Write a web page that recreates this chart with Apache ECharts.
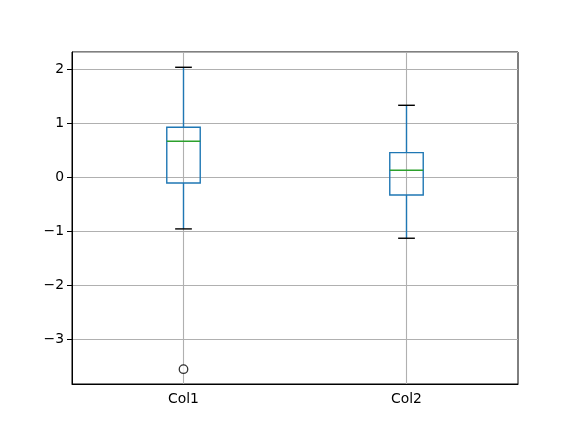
<!DOCTYPE html>
<html><head><meta charset="utf-8">
<script src="https://cdn.jsdelivr.net/npm/echarts@6/dist/echarts.min.js"></script>
<style>html,body{margin:0;padding:0;background:#fff}#c{width:576px;height:432px}</style>
</head><body><div id="c"></div>
<script>
const categories = ['Col1', 'Col2'];
const whiskerLow = [-0.957, -1.13];
const q1 = [-0.106, -0.328];
const median = [0.667, 0.13];
const q3 = [0.926, 0.456];
const whiskerHigh = [2.037, 1.333];
const outliers = [['Col1', -3.556]];
const yMin = -3.83, yMax = 2.32;

const boxData = categories.map((c, i) => [i, whiskerLow[i], q1[i], median[i], q3[i], whiskerHigh[i]]);
const chart = echarts.init(document.getElementById('c'));
const font = 'DejaVu Sans';
function fmt(v){ return String(v).replace('-', '\u2212'); }

chart.setOption({
  animation: false,
  grid: { left: 72, right: 58, top: 52, bottom: 48, show: true, borderColor: '#000', borderWidth: 1, backgroundColor: 'transparent' },
  xAxis: {
    type: 'category', data: categories, boundaryGap: true,
    axisLine: { onZero: false, lineStyle: { color: '#000', width: 1 } },
    axisTick: { alignWithLabel: true, length: 5, lineStyle: { color: '#000', width: 1 } },
    axisLabel: { color: '#000', fontFamily: font, fontSize: 13.9, margin: 8 },
    splitLine: { show: false }
  },
  yAxis: {
    type: 'value', min: yMin, max: yMax, splitNumber: 6,
    axisLine: { show: true, lineStyle: { color: '#000', width: 1 } },
    axisTick: { show: true, length: 5, lineStyle: { color: '#000', width: 1 } },
    axisLabel: { color: '#000', fontFamily: font, fontSize: 13.9, margin: 8, showMinLabel: false, showMaxLabel: false, formatter: fmt },
    splitLine: { show: true, lineStyle: { color: '#b0b0b0', width: 1.1 } }
  },
  series: [
    {
      type: 'line', data: [], z: 1, silent: true,
      markLine: {
        z: 1, silent: true, symbol: 'none', animation: false,
        label: { show: false },
        lineStyle: { color: '#b0b0b0', width: 1.1, type: 'solid' },
        data: categories.map(c => ({ xAxis: c }))
      }
    },
    {
      type: 'custom', z: 3, data: boxData,
      renderItem: function (params, api) {
        const x = api.value(0);
        const lo = api.coord([x, api.value(1)]);
        const b1 = api.coord([x, api.value(2)]);
        const md = api.coord([x, api.value(3)]);
        const b3 = api.coord([x, api.value(4)]);
        const hi = api.coord([x, api.value(5)]);
        const band = api.size([1, 0])[0];
        const bw = band * 0.15, cw = bw / 2;
        const cx = lo[0];
        const blue = '#1f77b4', lw = 1.4;
        return {
          type: 'group',
          children: [
            { type: 'line', shape: { x1: cx, y1: b1[1], x2: cx, y2: lo[1] }, style: { stroke: blue, lineWidth: lw } },
            { type: 'line', shape: { x1: cx, y1: b3[1], x2: cx, y2: hi[1] }, style: { stroke: blue, lineWidth: lw } },
            { type: 'line', shape: { x1: cx - cw / 2, y1: lo[1], x2: cx + cw / 2, y2: lo[1] }, style: { stroke: '#000', lineWidth: lw } },
            { type: 'line', shape: { x1: cx - cw / 2, y1: hi[1], x2: cx + cw / 2, y2: hi[1] }, style: { stroke: '#000', lineWidth: lw } },
            { type: 'rect', shape: { x: cx - bw / 2, y: b3[1], width: bw, height: b1[1] - b3[1] }, style: { fill: 'none', stroke: blue, lineWidth: lw } },
            { type: 'line', shape: { x1: cx - bw / 2, y1: md[1], x2: cx + bw / 2, y2: md[1] }, style: { stroke: '#2ca02c', lineWidth: lw } }
          ]
        };
      }
    },
    {
      type: 'scatter', z: 4, data: outliers, symbol: 'circle', symbolSize: 8.5,
      itemStyle: { color: '#fff', borderColor: '#000', borderWidth: 1.3 }
    }
  ]
});
</script></body></html>
